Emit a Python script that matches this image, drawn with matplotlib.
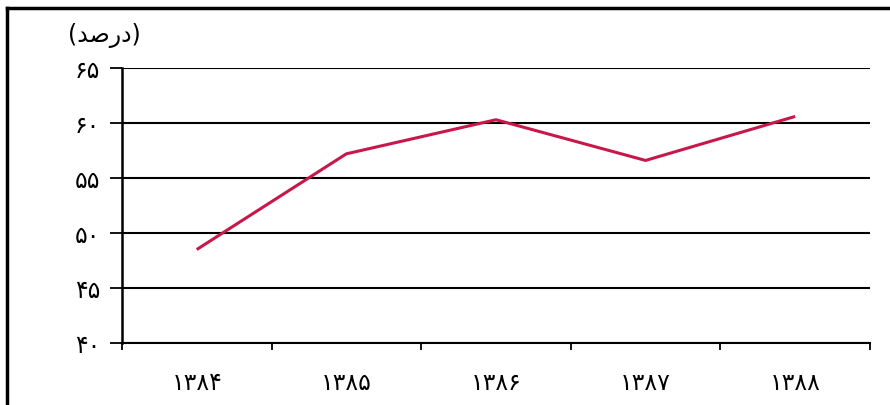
import matplotlib
matplotlib.use('Agg')
import matplotlib.pyplot as plt
from matplotlib.lines import Line2D

# data
years = ['۱۳۸۴', '۱۳۸۵', '۱۳۸۶', '۱۳۸۷', '۱۳۸۸']
values = [48.5, 57.2, 60.3, 56.6, 60.6]
yticks = [40, 45, 50, 55, 60, 65]
ytick_labels = ['۴۰', '۴۵', '۵۰', '۵۵', '۶۰', '۶۵']
# "(درصد)" in visual order with presentation forms (no shaping in matplotlib)
unit_label = '(\uFEAA\uFEBB\uFEAD\uFEA9)'

plt.rcParams['font.family'] = ['DejaVu Sans']

fig = plt.figure(figsize=(8.9, 4.05), dpi=100)
ax = fig.add_axes([0.137, 0.153, 0.8405, 0.679])

xpos = list(range(len(years)))
ax.plot(xpos, values, color='#c8174a', linewidth=2.2, solid_capstyle='butt', zorder=3)

ax.set_xlim(-0.5, len(years) - 0.5)
ax.set_ylim(40, 65)

# horizontal gridlines
for y in yticks:
    ax.axhline(y, color='black', linewidth=1.5, zorder=2)

ax.set_yticks(yticks)
ax.set_yticklabels(ytick_labels, fontsize=17)
ax.tick_params(axis='y', direction='out', length=8.5, width=1.3, pad=7)

# category boundaries as ticks, labels at centers
ax.set_xticks([i - 0.5 for i in range(len(years) + 1)])
ax.set_xticklabels([])
ax.set_xticks(xpos, minor=True)
ax.set_xticklabels(years, minor=True, fontsize=17)
ax.tick_params(axis='x', which='major', direction='out', length=5, width=1.3)
ax.tick_params(axis='x', which='minor', length=0, pad=20)

for side in ['top', 'right']:
    ax.spines[side].set_visible(False)
ax.spines['left'].set_linewidth(1.8)
ax.spines['bottom'].set_linewidth(1.5)

fig.text(0.117, 0.913, unit_label, fontsize=17, ha='center', va='center')

# frame lines at top and left of the picture
fig.add_artist(Line2D([0.008, 1.0], [0.981, 0.981], color='black', linewidth=2.5,
                      transform=fig.transFigure))
fig.add_artist(Line2D([0.008, 0.008], [0.0, 0.981], color='black', linewidth=2.5,
                      transform=fig.transFigure))

fig.savefig('out.png', dpi=100)
